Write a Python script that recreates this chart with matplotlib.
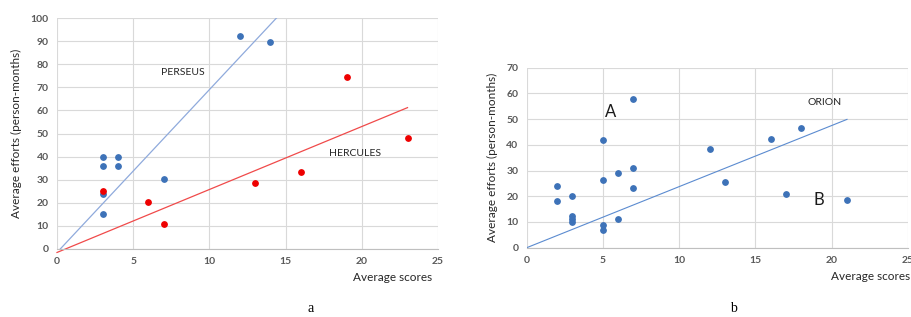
import matplotlib
matplotlib.use("Agg")
import matplotlib.pyplot as plt

# panel a data
perseus_x = [3, 3, 4, 4, 3, 3, 7, 12, 14]
perseus_y = [40, 36, 40, 36, 24, 15, 30.5, 92, 89.5]
hercules_x = [3, 6, 7, 13, 16, 19, 23]
hercules_y = [25, 20.5, 11, 28.5, 33.5, 74.5, 48]
perseus_fit_x = [0, 14.4]
perseus_fit_y = [-1.5, 100]
hercules_fit_x = [0, 23]
hercules_fit_y = [-1.5, 61.2]

# panel b data
orion_x = [2, 2, 3, 3, 3, 3, 5, 5, 5, 5, 6, 6, 7, 7, 7, 12, 13, 16, 17, 18, 21]
orion_y = [24, 18, 20, 12.3, 11.2, 10.1, 42, 26.3, 9, 6.9, 29.2, 11, 58, 31, 23.2, 38.2, 25.6, 42.4, 21, 46.4, 18.6]
orion_fit_x = [0, 21]
orion_fit_y = [0, 49.9]

blue = "#3d72b8"
red = "#ee0000"
tick_col = "#595959"
grid_col = "#d9d9d9"

plt.rcParams["font.family"] = ["Lato", "DejaVu Sans"]

fig = plt.figure(figsize=(9.12, 3.17), dpi=100)
ax1 = fig.add_axes([57 / 912, 1 - 249 / 317, 381 / 912, 231 / 317])
ax2 = fig.add_axes([526.7 / 912, 1 - 247.7 / 317, 381.3 / 912, 180 / 317])


def style(ax, ymax, ystep):
    ax.set_xlim(0, 25)
    ax.set_ylim(0, ymax)
    ax.set_xticks(range(0, 26, 5))
    ax.set_yticks(range(0, ymax + 1, ystep))
    ax.grid(True, color=grid_col, linewidth=0.8)
    ax.set_axisbelow(True)
    for s in ["top", "right", "left"]:
        ax.spines[s].set_visible(False)
    ax.spines["bottom"].set_color("#bfbfbf")
    ax.tick_params(length=0, labelsize=7.5, colors=tick_col, pad=6)
    for lab in ax.get_xticklabels() + ax.get_yticklabels():
        lab.set_fontweight("bold")
    ax.set_ylabel("Average efforts (person-months)", fontsize=8.5, color="#262626", labelpad=6)


style(ax1, 100, 10)
ax1.plot(perseus_fit_x, perseus_fit_y, color="#8faadc", linewidth=0.9, clip_on=True)
ax1.plot(hercules_fit_x, hercules_fit_y, color="#f04a4a", linewidth=0.9, clip_on=False)
ax1.scatter(perseus_x, perseus_y, s=15, color=blue, zorder=3)
ax1.scatter(hercules_x, hercules_y, s=15, color=red, zorder=4)
ax1.text(6.8, 76.6, "PERSEUS", fontsize=7.5, color="#262626", va="center")
ax1.text(17.85, 41.5, "HERCULES", fontsize=7.5, color="#262626", va="center")
ax1.text(0.984, -0.10, "Average scores", transform=ax1.transAxes, fontsize=8.5,
         color="#262626", ha="right", va="top")

style(ax2, 70, 10)
ax2.plot(orion_fit_x, orion_fit_y, color="#5b8bd0", linewidth=0.8)
ax2.scatter(orion_x, orion_y, s=15, color=blue, zorder=3)
ax2.text(18.4, 56.5, "ORION", fontsize=7.5, color="#262626", va="center")
ax2.text(5.1, 52.7, "A", fontsize=12, color="#1a1a1a", va="center")
ax2.text(18.8, 18.5, "B", fontsize=12, color="#1a1a1a", va="center")
ax2.text(1.005, -0.13, "Average scores", transform=ax2.transAxes, fontsize=8.5,
         color="#262626", ha="right", va="top")

fig.text(311 / 912, 1 - 309 / 317, "a", fontsize=10, family="Liberation Serif", ha="center", va="center")
fig.text(733 / 912, 1 - 309 / 317, "b", fontsize=10, family="Liberation Serif", ha="center", va="center")

fig.savefig("out.png", dpi=100)
